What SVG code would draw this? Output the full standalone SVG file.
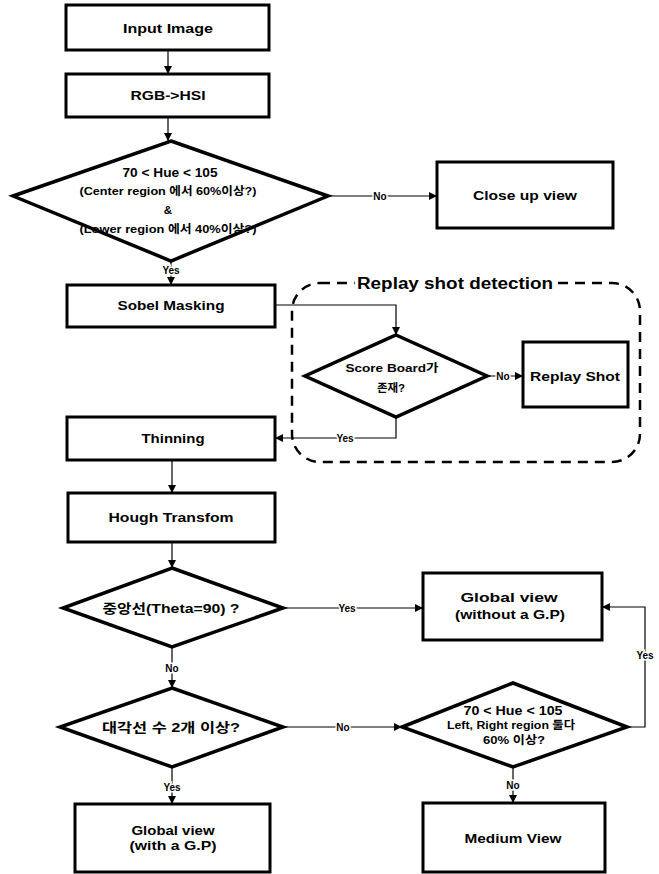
<svg xmlns="http://www.w3.org/2000/svg" width="659" height="874" viewBox="0 0 659 874">
<style>
.box{fill:#fff;stroke:#000;stroke-width:3}
.dia{fill:#fff;stroke:#000;stroke-width:3.5;stroke-linejoin:miter}
.t{font-family:"Liberation Sans","Noto Sans CJK KR",Arial,sans-serif;font-weight:bold;font-size:13px;fill:#000;text-anchor:middle;dominant-baseline:central}
.s{font-size:11.5px}
.lbl{font-family:"Liberation Sans",Arial,sans-serif;font-weight:bold;font-size:10px;fill:#000;text-anchor:middle;dominant-baseline:central;stroke:#fff;stroke-width:3;paint-order:stroke}
.c{fill:none;stroke:#000;stroke-width:1.2}
.grp{fill:none;stroke:#000;stroke-width:2.5;stroke-dasharray:10 7}
</style>
<defs>
<marker id="ah" viewBox="0 0 10 10" refX="10" refY="5" markerWidth="8" markerHeight="8" markerUnits="userSpaceOnUse" orient="auto">
<path d="M0,0 L10,5 L0,10 z" fill="#000"/>
</marker>
</defs>

<g id="replay-group">
<rect class="grp" x="292" y="283" width="348" height="179" rx="28"/>
<text class="t" x="455" y="283" font-size="16" textLength="196" lengthAdjust="spacingAndGlyphs" style="font-size:16px;stroke:#fff;stroke-width:6;paint-order:stroke">Replay shot detection</text>
</g>

<g id="connectors">
<path class="c" d="M168,50 V74" marker-end="url(#ah)"/>
<path class="c" d="M168,117 V141" marker-end="url(#ah)"/>
<path class="c" d="M328,196 H437" marker-end="url(#ah)"/>
<path class="c" d="M171,261 V285" marker-end="url(#ah)"/>
<path class="c" d="M275,305 H396 V335" marker-end="url(#ah)"/>
<path class="c" d="M487,376 H523" marker-end="url(#ah)"/>
<path class="c" d="M396,417 V438 H275" marker-end="url(#ah)"/>
<path class="c" d="M172,460 V493" marker-end="url(#ah)"/>
<path class="c" d="M172,542 V568" marker-end="url(#ah)"/>
<path class="c" d="M283,608 H423" marker-end="url(#ah)"/>
<path class="c" d="M172,647 V688" marker-end="url(#ah)"/>
<path class="c" d="M283,727 H402" marker-end="url(#ah)"/>
<path class="c" d="M172,767 V804" marker-end="url(#ah)"/>
<path class="c" d="M513,767 V803" marker-end="url(#ah)"/>
<path class="c" d="M627,727 H645 V607 H602" marker-end="url(#ah)"/>
<text class="lbl" x="380" y="196">No</text>
<text class="lbl" x="171" y="270">Yes</text>
<text class="lbl" x="503" y="376">No</text>
<text class="lbl" x="345" y="438">Yes</text>
<text class="lbl" x="347" y="608">Yes</text>
<text class="lbl" x="172" y="668">No</text>
<text class="lbl" x="343" y="727">No</text>
<text class="lbl" x="172" y="787">Yes</text>
<text class="lbl" x="513" y="785">No</text>
<text class="lbl" x="645" y="655">Yes</text>
</g>

<g id="input-image">
<rect class="box" x="66" y="5" width="203" height="45"/>
<text class="t" x="168" y="28" textLength="90" lengthAdjust="spacingAndGlyphs">Input Image</text>
</g>
<g id="rgb-hsi">
<rect class="box" x="66" y="74" width="203" height="43"/>
<text class="t" x="168" y="95" textLength="75" lengthAdjust="spacingAndGlyphs">RGB-&gt;HSI</text>
</g>
<g id="hue-check">
<polygon class="dia" points="171,141 328,196 171,261 13,196"/>
<text class="t" x="170" y="172" textLength="95" lengthAdjust="spacingAndGlyphs">70 &lt; Hue &lt; 105</text>
<text class="t s" x="168" y="191" textLength="177" lengthAdjust="spacingAndGlyphs">(Center region 에서 60%이상?)</text>
<text class="t s" x="168" y="210">&amp;</text>
<text class="t s" x="168" y="229" textLength="177" lengthAdjust="spacingAndGlyphs">(Lower region 에서 40%이상?)</text>
</g>
<g id="close-up">
<rect class="box" x="437" y="162" width="176" height="66"/>
<text class="t" x="525" y="195" textLength="104" lengthAdjust="spacingAndGlyphs">Close up view</text>
</g>
<g id="sobel">
<rect class="box" x="67" y="285" width="208" height="42"/>
<text class="t" x="171" y="305" textLength="107" lengthAdjust="spacingAndGlyphs">Sobel Masking</text>
</g>
<g id="scoreboard">
<polygon class="dia" points="396,335 487,376 396,417 305,376"/>
<text class="t s" x="392" y="368" textLength="93" lengthAdjust="spacingAndGlyphs">Score Board가</text>
<text class="t s" x="391" y="388">존재?</text>
</g>
<g id="replay-shot">
<rect class="box" x="523" y="342" width="105" height="65"/>
<text class="t" x="575" y="376" textLength="90" lengthAdjust="spacingAndGlyphs">Replay Shot</text>
</g>
<g id="thinning">
<rect class="box" x="67" y="417" width="208" height="43"/>
<text class="t" x="173" y="438" textLength="63" lengthAdjust="spacingAndGlyphs">Thinning</text>
</g>
<g id="hough">
<rect class="box" x="68" y="493" width="207" height="49"/>
<text class="t" x="171" y="517" textLength="125" lengthAdjust="spacingAndGlyphs">Hough Transfom</text>
</g>
<g id="center-line">
<polygon class="dia" points="172,568 283,608 172,647 63,608"/>
<text class="t" x="171" y="608" textLength="137" lengthAdjust="spacingAndGlyphs">중앙선(Theta=90) ?</text>
</g>
<g id="global-without">
<rect class="box" x="423" y="573" width="179" height="67"/>
<text class="t" x="509" y="597" textLength="97" lengthAdjust="spacingAndGlyphs">Global view</text>
<text class="t" x="510" y="614" textLength="110" lengthAdjust="spacingAndGlyphs">(without a G.P)</text>
</g>
<g id="diagonal">
<polygon class="dia" points="172,688 283,727 172,767 60,727"/>
<text class="t" x="171" y="727" textLength="138" lengthAdjust="spacingAndGlyphs">대각선 수 2개 이상?</text>
</g>
<g id="hue-lr">
<polygon class="dia" points="513,683 627,727 513,767 402,727"/>
<text class="t" x="513" y="710" textLength="99" lengthAdjust="spacingAndGlyphs">70 &lt; Hue &lt; 105</text>
<text class="t s" x="511" y="725" textLength="128" lengthAdjust="spacingAndGlyphs">Left, Right region 둘다</text>
<text class="t s" x="514" y="740" textLength="62" lengthAdjust="spacingAndGlyphs">60% 이상?</text>
</g>
<g id="global-with">
<rect class="box" x="75" y="804" width="195" height="68"/>
<text class="t" x="173" y="830" textLength="83" lengthAdjust="spacingAndGlyphs">Global view</text>
<text class="t" x="173" y="845" textLength="87" lengthAdjust="spacingAndGlyphs">(with a G.P)</text>
</g>
<g id="medium">
<rect class="box" x="423" y="803" width="182" height="69"/>
<text class="t" x="513" y="838" textLength="97" lengthAdjust="spacingAndGlyphs">Medium View</text>
</g>
</svg>
